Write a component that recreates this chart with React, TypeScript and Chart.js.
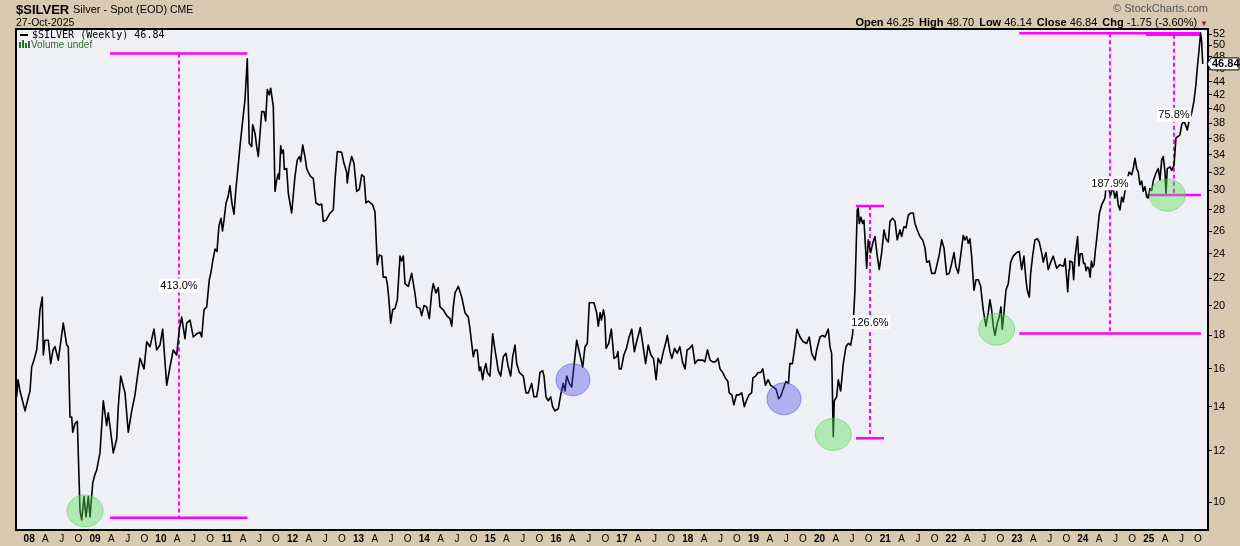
import React, { useEffect, useRef } from 'react';
import { Chart, registerables } from 'chart.js';

Chart.register(...registerables);

// ---------------- data (weekly closes) ----------------
const t07_10 = [
  2007.811, 2007.830, 2007.861, 2007.891, 2007.937, 2007.982, 2008.013, 2008.038, 2008.073, 2008.114,
  2008.142, 2008.164, 2008.199, 2008.215, 2008.240, 2008.290, 2008.327, 2008.362, 2008.392, 2008.442,
  2008.483, 2008.518, 2008.570, 2008.594, 2008.620, 2008.646, 2008.661, 2008.696, 2008.731, 2008.772,
  2008.798, 2008.832, 2008.863, 2008.898, 2008.924, 2008.965, 2008.995, 2009.025, 2009.075, 2009.126,
  2009.177, 2009.201, 2009.235, 2009.277, 2009.329, 2009.353, 2009.390, 2009.425, 2009.455, 2009.505,
  2009.557, 2009.607, 2009.645, 2009.683, 2009.744, 2009.785, 2009.835, 2009.895, 2009.936, 2009.986,
  2010.027, 2010.088, 2010.138, 2010.188, 2010.240, 2010.280, 2010.316, 2010.366, 2010.392, 2010.442,
  2010.492, 2010.544, 2010.594, 2010.620, 2010.655, 2010.696, 2010.735, 2010.761, 2010.791, 2010.822,
  2010.852, 2010.882, 2010.913, 2010.935, 2010.958, 2010.989, 2011.019, 2011.049, 2011.080, 2011.110,
  2011.140, 2011.171,
];
const p07_10 = [
  14.5, 15.4, 14.8, 14.4, 13.8, 14.4, 14.8, 16.1, 16.5, 17.1,
  18.4, 19.7, 20.6, 16.8, 17.7, 17.7, 16.3, 17.1, 17.3, 16.5,
  17.7, 18.8, 17.4, 17.3, 13.5, 13.5, 12.8, 13.2, 13.3, 9.7,
  9.4, 10.2, 9.5, 10.2, 9.5, 10.7, 11.0, 11.2, 11.9, 14.3,
  13.1, 13.7, 12.9, 11.9, 12.5, 14.0, 15.6, 15.1, 14.7, 12.8,
  13.8, 14.6, 15.6, 16.6, 16.0, 17.6, 17.3, 18.4, 17.1, 17.4,
  18.4, 15.1, 16.1, 17.1, 16.8, 18.4, 19.2, 17.8, 18.8, 19.0,
  17.9, 18.1, 18.2, 17.9, 19.7, 19.9, 21.9, 22.5, 23.5, 24.4,
  24.2, 26.5, 27.2, 26.0, 27.0, 28.7, 29.3, 30.5, 28.6, 27.6,
  30.2, 32.5,
];

const t11_16 = [
  2011.201, 2011.227, 2011.277, 2011.312, 2011.342, 2011.379, 2011.394, 2011.429, 2011.455, 2011.479,
  2011.531, 2011.566, 2011.591, 2011.616, 2011.646, 2011.667, 2011.707, 2011.733, 2011.758, 2011.783,
  2011.798, 2011.819, 2011.834, 2011.859, 2011.874, 2011.910, 2011.935, 2011.986, 2012.036, 2012.071,
  2012.102, 2012.123, 2012.153, 2012.188, 2012.214, 2012.238, 2012.275, 2012.314, 2012.355, 2012.405,
  2012.442, 2012.466, 2012.507, 2012.568, 2012.618, 2012.644, 2012.679, 2012.745, 2012.780, 2012.821,
  2012.830, 2012.861, 2012.897, 2012.932, 2012.973, 2013.013, 2013.049, 2013.084, 2013.114, 2013.149,
  2013.216, 2013.251, 2013.286, 2013.316, 2013.353, 2013.377, 2013.418, 2013.438, 2013.459, 2013.489,
  2013.520, 2013.555, 2013.590, 2013.631, 2013.656, 2013.681, 2013.707, 2013.757, 2013.808, 2013.858,
  2013.884, 2013.934, 2013.960, 2013.995, 2014.036, 2014.076, 2014.112, 2014.136, 2014.177, 2014.212,
  2014.238, 2014.288, 2014.340, 2014.390, 2014.416, 2014.440, 2014.466, 2014.516, 2014.568, 2014.618,
  2014.668, 2014.694, 2014.719, 2014.744, 2014.769, 2014.804, 2014.835, 2014.856, 2014.886, 2014.906,
  2014.936, 2014.956, 2014.997, 2015.038, 2015.073, 2015.099, 2015.123, 2015.160, 2015.199, 2015.240,
  2015.275, 2015.311, 2015.342, 2015.377, 2015.403, 2015.442, 2015.503, 2015.544, 2015.579, 2015.630,
  2015.665, 2015.706, 2015.731, 2015.756, 2015.797, 2015.817, 2015.848, 2015.882, 2015.919, 2015.949,
  2015.984, 2016.034, 2016.071, 2016.110, 2016.136, 2016.162, 2016.201, 2016.238, 2016.262, 2016.314,
  2016.364, 2016.405, 2016.440, 2016.475, 2016.505, 2016.541, 2016.576, 2016.617, 2016.642,
];
const p11_16 = [
  35.0, 37.1, 41.3, 47.7, 35.4, 35.0, 37.8, 36.7, 35.0, 33.8,
  39.6, 39.6, 38.3, 42.8, 42.0, 43.0, 40.3, 29.9, 31.1, 31.8,
  31.2, 35.1, 34.2, 34.6, 32.3, 32.4, 29.7, 27.7, 31.5, 33.4,
  33.8, 33.2, 35.2, 33.8, 32.4, 32.0, 31.5, 31.3, 28.7, 28.5,
  28.6, 26.9, 27.0, 27.7, 28.0, 31.1, 34.4, 34.3, 33.0, 32.0,
  30.8, 32.6, 33.8, 33.0, 29.9, 30.1, 31.7, 31.5, 28.7, 28.9,
  28.5, 27.8, 23.1, 23.9, 23.8, 22.1, 22.1, 21.6, 20.6, 18.8,
  19.7, 19.8, 20.4, 23.8, 23.4, 23.8, 21.6, 21.4, 22.4, 20.9,
  19.9, 19.8, 19.3, 20.0, 19.9, 19.1, 20.9, 21.6, 20.9, 21.3,
  19.9, 19.7, 19.3, 19.1, 18.6, 19.9, 20.9, 21.4, 20.6, 19.5,
  19.2, 18.4, 17.5, 16.7, 17.1, 17.1, 15.9, 16.1, 15.4, 15.9,
  16.3, 15.8, 15.6, 18.1, 17.1, 16.5, 15.9, 15.6, 16.7, 16.9,
  16.1, 15.6, 16.7, 17.4, 16.3, 15.8, 15.6, 14.7, 14.7, 15.2,
  14.5, 14.5, 15.0, 15.8, 15.9, 15.6, 14.5, 14.3, 14.5, 14.0,
  13.8, 13.9, 14.6, 15.2, 14.8, 15.6, 15.2, 15.0, 15.8, 17.7,
  16.8, 16.1, 17.3, 17.5, 20.2, 20.2, 20.2, 19.5, 18.6,
];

const t16_19 = [
  2016.67, 2016.69, 2016.72, 2016.74, 2016.76, 2016.80, 2016.84, 2016.86, 2016.88, 2016.92,
  2016.94, 2016.96, 2016.99, 2017.03, 2017.07, 2017.11, 2017.15, 2017.19, 2017.23, 2017.28,
  2017.32, 2017.36, 2017.40, 2017.44, 2017.48, 2017.52, 2017.55, 2017.59, 2017.63, 2017.67,
  2017.69, 2017.73, 2017.76, 2017.80, 2017.84, 2017.88, 2017.92, 2017.96, 2017.99, 2018.03,
  2018.07, 2018.11, 2018.15, 2018.19, 2018.23, 2018.26, 2018.30, 2018.34, 2018.38, 2018.42,
  2018.46, 2018.49, 2018.53, 2018.57, 2018.61, 2018.63, 2018.67, 2018.70, 2018.74, 2018.78,
  2018.82, 2018.86, 2018.89, 2018.93, 2018.97, 2018.99, 2019.03, 2019.07, 2019.11, 2019.14,
  2019.18, 2019.22, 2019.26, 2019.30, 2019.34, 2019.38, 2019.41, 2019.45, 2019.49, 2019.53,
  2019.55, 2019.59, 2019.62, 2019.66,
];
const p16_19 = [
  19.5, 19.0, 19.7, 19.2, 17.2, 17.5, 18.4, 17.5, 16.6, 16.7,
  17.0, 16.0, 16.0, 16.8, 17.2, 17.9, 18.4, 17.0, 17.7, 18.5,
  17.4, 16.3, 17.4, 16.8, 16.6, 15.4, 16.6, 16.3, 17.0, 17.6,
  18.0, 17.0, 16.6, 17.2, 16.9, 17.3, 16.4, 16.0, 17.1, 17.2,
  17.4, 16.3, 16.5, 16.5, 16.5, 16.4, 17.1, 16.5, 16.4, 16.4,
  16.6, 16.0, 15.8, 15.5, 15.3, 14.7, 14.6, 14.1, 14.6, 14.6,
  14.7, 14.0, 14.3, 14.6, 14.7, 15.5, 15.6, 15.8, 15.8, 16.0,
  15.1, 15.4, 15.1, 15.0, 14.9, 14.4, 14.5, 14.9, 15.3, 15.2,
  16.3, 16.3, 17.1, 18.4,
];

const t19_23 = [
  2019.704, 2019.754, 2019.806, 2019.845, 2019.882, 2019.932, 2019.958, 2020.008, 2020.049, 2020.084,
  2020.134, 2020.160, 2020.185, 2020.210, 2020.225, 2020.261, 2020.286, 2020.322, 2020.362, 2020.403,
  2020.437, 2020.474, 2020.504, 2020.539, 2020.574, 2020.589, 2020.605, 2020.630, 2020.656, 2020.676,
  2020.717, 2020.741, 2020.778, 2020.808, 2020.843, 2020.878, 2020.908, 2020.945, 2020.980, 2021.010,
  2021.045, 2021.071, 2021.112, 2021.147, 2021.181, 2021.223, 2021.248, 2021.283, 2021.314, 2021.349,
  2021.385, 2021.425, 2021.450, 2021.485, 2021.526, 2021.567, 2021.602, 2021.628, 2021.667, 2021.704,
  2021.754, 2021.789, 2021.819, 2021.856, 2021.891, 2021.932, 2021.971, 2022.008, 2022.043, 2022.073,
  2022.108, 2022.134, 2022.184, 2022.209, 2022.235, 2022.260, 2022.285, 2022.311, 2022.346, 2022.377,
  2022.412, 2022.448, 2022.487, 2022.528, 2022.563, 2022.589, 2022.615, 2022.639, 2022.665, 2022.700,
  2022.730, 2022.756, 2022.776, 2022.802, 2022.832, 2022.867, 2022.904, 2022.943, 2022.995, 2023.034,
  2023.071, 2023.105, 2023.136, 2023.156, 2023.186, 2023.207, 2023.237, 2023.272, 2023.307, 2023.338,
  2023.374, 2023.398, 2023.439, 2023.474, 2023.511, 2023.550, 2023.602, 2023.652,
];
const p19_23 = [
  17.9, 17.6, 17.5, 17.9, 16.9, 16.5, 17.1, 17.9, 18.0, 17.9,
  18.4, 17.3, 16.9, 12.6, 14.3, 14.5, 15.4, 14.8, 16.3, 17.3,
  17.5, 17.4, 18.1, 21.1, 28.0, 28.2, 26.7, 27.3, 26.7, 27.0,
  22.8, 25.2, 24.1, 24.9, 25.5, 23.8, 22.7, 24.1, 26.1, 25.3,
  25.0, 26.9, 27.2, 26.9, 25.2, 26.1, 25.5, 26.4, 26.3, 27.5,
  27.7, 27.7, 26.7, 26.1, 25.5, 25.2, 24.5, 23.3, 23.4, 22.4,
  22.4, 23.2, 23.9, 25.2, 24.5, 22.3, 22.4, 23.2, 24.1, 22.9,
  22.4, 23.4, 25.6, 25.2, 25.5, 24.9, 25.3, 23.8, 21.1, 21.9,
  21.9, 21.4, 19.7, 18.6, 19.5, 20.4, 19.7, 18.6, 18.0, 18.8,
  19.2, 19.9, 18.4, 19.5, 21.1, 21.6, 23.3, 23.8, 24.1, 24.2,
  22.7, 23.8, 21.9, 21.1, 20.6, 22.4, 23.8, 25.2, 25.3, 25.0,
  24.1, 23.3, 24.1, 22.7, 23.3, 23.8, 22.8, 23.1,
];

const t23_25 = [
  2023.68, 2023.71, 2023.73, 2023.75, 2023.77, 2023.79, 2023.80, 2023.84, 2023.86, 2023.88,
  2023.90, 2023.92, 2023.94, 2023.96, 2023.99, 2024.01, 2024.03, 2024.05, 2024.07, 2024.09,
  2024.11, 2024.13, 2024.15, 2024.17, 2024.19, 2024.209, 2024.249, 2024.285, 2024.335, 2024.361,
  2024.385, 2024.422, 2024.452, 2024.487, 2024.513, 2024.537, 2024.563, 2024.589, 2024.613, 2024.639,
  2024.665, 2024.704, 2024.741, 2024.765, 2024.791, 2024.817, 2024.841, 2024.867, 2024.893, 2024.917,
  2024.943, 2024.969, 2024.993, 2025.019, 2025.045, 2025.069, 2025.110, 2025.145, 2025.171, 2025.197,
  2025.221, 2025.247, 2025.262, 2025.282, 2025.323, 2025.349, 2025.384, 2025.414, 2025.449, 2025.475,
  2025.500, 2025.535, 2025.566, 2025.585, 2025.616, 2025.652, 2025.687, 2025.717, 2025.737, 2025.767,
  2025.788, 2025.803, 2025.820,
];
const p23_25 = [
  23.0, 23.0, 23.6, 22.3, 21.0, 22.7, 23.4, 23.3, 21.9, 23.7,
  24.6, 25.5, 23.0, 24.0, 24.0, 23.2, 23.2, 22.6, 22.9, 22.8,
  22.1, 23.4, 22.9, 23.1, 24.3, 25.2, 27.6, 28.5, 29.2, 31.0,
  30.2, 29.5, 30.4, 29.2, 29.9, 28.5, 28.0, 29.3, 28.8, 29.9,
  31.0, 32.0, 31.7, 32.4, 33.6, 32.4, 32.0, 30.6, 31.0, 29.9,
  30.4, 29.3, 29.2, 30.2, 30.0, 31.0, 31.9, 32.4, 31.1, 33.4,
  33.8, 32.0, 29.7, 32.4, 32.6, 32.2, 32.8, 36.1, 36.3, 36.5,
  37.8, 38.3, 37.6, 37.1, 38.5, 39.4, 41.1, 43.6, 46.1, 49.5,
  52.2, 50.8, 46.84,
];

const timeSegments = [t07_10, t11_16, t16_19, t19_23, t23_25];
const priceSegments = [p07_10, p11_16, p16_19, p19_23, p23_25];

const lastClose = 46.84;

// axis ticks
const axisYears = [2008, 2009, 2010, 2011, 2012, 2013, 2014, 2015, 2016, 2017, 2018, 2019, 2020, 2021, 2022, 2023, 2024, 2025];
const quarterLetters = ['A', 'J', 'O'];
const quarterFractions = [0.247, 0.496, 0.748];
const priceTicks = [10, 12, 14, 16, 18, 20, 22, 24, 26, 28, 30, 32, 34, 36, 38, 40, 42, 44, 46, 48, 50, 52];
const X_MIN = 2007.8;
const X_MAX = 2025.9;
const Y_MIN = 9.07;
const Y_MAX = 52.97;

// percentage measurements (magenta)
const measureFrom = [2009.227, 2020.555, 2023.034, 2024.958];
const measureTo = [2011.315, 2020.98, 2025.793, 2025.793];
const measureAt = [2010.275, 2020.767, 2024.411, 2025.383];
const measureLow = [9.47, 12.53, 18.13, 29.52];
const measureHigh = [48.6, 28.4, 52.2, 51.9];
const measureText = ['413.0%', '126.6%', '187.9%', '75.8%'];

// highlight ellipses
const circleTimes = [2008.848, 2016.257, 2019.461, 2020.21, 2022.691, 2025.282];
const circleValues = [9.7, 15.4, 14.4, 12.7, 18.4, 29.5];
const circleKinds = ['green', 'blue', 'blue', 'green', 'green', 'green'];

// header texts
const symbolText = '$SILVER';
const descText = 'Silver - Spot (EOD)';
const exchText = 'CME';
const dateText = '27-Oct-2025';
const creditText = '\u00A9 StockCharts.com';
const ohlcLabels = ['Open', 'High', 'Low', 'Close', 'Chg'];
const ohlcValues = ['46.25', '48.70', '46.14', '46.84', '-1.75 (-3.60%)'];
const legendText = '$SILVER (Weekly) 46.84';
const volumeText = 'Volume undef';

// ---------------- styles ----------------
const TAN = '#d9c9b0';
const PLOT_BG = '#eff0f6';
const MAGENTA = '#ff00ff';
const SANS = 'Arial, "Liberation Sans", sans-serif';
const CIRCLE_STYLE: Record<string, { fill: string; stroke: string }> = {
  green: { fill: 'rgba(90,225,90,0.42)', stroke: 'rgba(90,200,90,0.55)' },
  blue: { fill: 'rgba(70,70,230,0.38)', stroke: 'rgba(70,70,220,0.5)' },
};

const decorPlugin = {
  id: 'stockchartsDecor',
  beforeDraw(chart: any) {
    const { ctx, chartArea: a } = chart;
    ctx.save();
    ctx.fillStyle = PLOT_BG;
    ctx.fillRect(a.left, a.top, a.right - a.left, a.bottom - a.top);
    ctx.restore();
  },
  beforeDatasetsDraw(chart: any) {
    const { ctx, chartArea: a, scales } = chart;
    const xs = scales.x;
    const ys = scales.y;
    ctx.save();
    ctx.beginPath();
    ctx.rect(a.left, a.top, a.right - a.left, a.bottom - a.top);
    ctx.clip();
    ctx.strokeStyle = MAGENTA;
    for (let i = 0; i < measureText.length; i++) {
      const x0 = xs.getPixelForValue(measureFrom[i]);
      const x1 = xs.getPixelForValue(measureTo[i]);
      const xm = xs.getPixelForValue(measureAt[i]);
      const yLo = ys.getPixelForValue(measureLow[i]);
      const yHi = ys.getPixelForValue(measureHigh[i]);
      ctx.setLineDash([]);
      ctx.lineWidth = 2.5;
      ctx.beginPath();
      ctx.moveTo(x0, yLo);
      ctx.lineTo(x1, yLo);
      ctx.moveTo(x0, yHi);
      ctx.lineTo(x1, yHi);
      ctx.stroke();
      ctx.setLineDash([4, 3]);
      ctx.lineWidth = 2;
      ctx.beginPath();
      ctx.moveTo(xm, yHi);
      ctx.lineTo(xm, yLo);
      ctx.stroke();
    }
    ctx.restore();
  },
  afterDatasetsDraw(chart: any) {
    const { ctx, chartArea: a, scales } = chart;
    const xs = scales.x;
    const ys = scales.y;
    ctx.save();
    ctx.beginPath();
    ctx.rect(a.left, a.top, a.right - a.left, a.bottom - a.top);
    ctx.clip();
    for (let i = 0; i < circleTimes.length; i++) {
      const st = CIRCLE_STYLE[circleKinds[i]];
      const cx = xs.getPixelForValue(circleTimes[i]);
      const cy = ys.getPixelForValue(circleValues[i]);
      const rx = circleKinds[i] === 'green' ? 18 : 17;
      ctx.beginPath();
      ctx.ellipse(cx, cy, rx, 16, 0, 0, Math.PI * 2);
      ctx.fillStyle = st.fill;
      ctx.fill();
      ctx.lineWidth = 1;
      ctx.strokeStyle = st.stroke;
      ctx.stroke();
    }
    ctx.font = '11px ' + SANS;
    ctx.textAlign = 'center';
    ctx.textBaseline = 'middle';
    for (let i = 0; i < measureText.length; i++) {
      const xm = xs.getPixelForValue(measureAt[i]);
      const ym = ys.getPixelForValue(Math.sqrt(measureLow[i] * measureHigh[i]));
      const w = ctx.measureText(measureText[i]).width + 3;
      ctx.fillStyle = '#ffffff';
      ctx.fillRect(xm - w / 2, ym - 7, w, 14);
      ctx.fillStyle = '#000000';
      ctx.fillText(measureText[i], xm, ym + 0.5);
    }
    ctx.restore();
  },
  afterDraw(chart: any) {
    const { ctx, chartArea: a, scales } = chart;
    ctx.save();
    ctx.strokeStyle = '#000';
    ctx.lineWidth = 2;
    ctx.strokeRect(a.left, a.top, a.right - a.left, a.bottom - a.top);
    // last-price flag
    const yc = scales.y.getPixelForValue(lastClose);
    const x0 = a.right;
    ctx.beginPath();
    ctx.moveTo(x0 - 1, yc);
    ctx.lineTo(x0 + 3, yc - 6);
    ctx.lineTo(1239, yc - 6);
    ctx.lineTo(1239, yc + 6);
    ctx.lineTo(x0 + 3, yc + 6);
    ctx.closePath();
    ctx.fillStyle = '#fff';
    ctx.fill();
    ctx.lineWidth = 1;
    ctx.strokeStyle = '#000';
    ctx.stroke();
    ctx.fillStyle = '#000';
    ctx.font = 'bold 11px ' + SANS;
    ctx.textAlign = 'left';
    ctx.textBaseline = 'middle';
    ctx.fillText(lastClose.toFixed(2), x0 + 4, yc + 0.5);
    ctx.restore();
  },
};

const App = () => {
  const ref = useRef<HTMLCanvasElement | null>(null);

  useEffect(() => {
    const canvas = ref.current;
    if (!canvas) return;
    const points: { x: number; y: number }[] = [];
    timeSegments.forEach((ts, s) => {
      const ps = priceSegments[s];
      const n = Math.min(ts.length, ps.length);
      for (let i = 0; i < n; i++) points.push({ x: ts[i], y: ps[i] });
    });

    const xTickValues: number[] = [];
    const xTickLabels: string[] = [];
    const xTickBold: boolean[] = [];
    axisYears.forEach((yr) => {
      xTickValues.push(yr);
      xTickLabels.push(String(yr % 100).padStart(2, '0'));
      xTickBold.push(true);
      quarterFractions.forEach((f, qi) => {
        const v = yr + f;
        if (v <= X_MAX) {
          xTickValues.push(v);
          xTickLabels.push(quarterLetters[qi]);
          xTickBold.push(false);
        }
      });
    });

    const chart = new Chart(canvas, {
      type: 'line',
      data: {
        datasets: [
          {
            data: points,
            borderColor: '#000000',
            borderWidth: 1.6,
            pointRadius: 0,
            tension: 0,
            borderJoinStyle: 'round',
            fill: false,
          },
        ],
      },
      options: {
        responsive: false,
        animation: false,
        devicePixelRatio: 1,
        events: [],
        layout: { padding: { left: 16, top: 29, right: 0, bottom: 0 } },
        plugins: { legend: { display: false }, tooltip: { enabled: false } },
        scales: {
          x: {
            type: 'linear',
            min: X_MIN,
            max: X_MAX,
            position: 'bottom',
            grid: { display: false, drawTicks: false },
            border: { display: false },
            afterFit: (s: any) => {
              s.height = 16;
            },
            afterBuildTicks: (s: any) => {
              s.ticks = xTickValues.map((v) => ({ value: v }));
            },
            ticks: {
              autoSkip: false,
              maxRotation: 0,
              minRotation: 0,
              padding: 3,
              color: '#000',
              font: (c: any) => ({ family: SANS, size: 10, weight: xTickBold[c.index] ? 'bold' : 'normal' }),
              callback: (_v: any, i: number) => xTickLabels[i],
            },
          },
          y: {
            type: 'logarithmic',
            position: 'right',
            min: Y_MIN,
            max: Y_MAX,
            grid: { display: true, drawOnChartArea: false, drawTicks: true, tickLength: 4, color: '#000' },
            border: { display: false },
            afterFit: (s: any) => {
              s.width = 32;
            },
            afterBuildTicks: (s: any) => {
              s.ticks = priceTicks.map((v) => ({ value: v }));
            },
            ticks: {
              autoSkip: false,
              padding: 1,
              color: '#000',
              font: { family: SANS, size: 11 },
              callback: (v: any) => String(v),
            },
          },
        },
      },
      plugins: [decorPlugin],
    } as any);

    return () => chart.destroy();
  }, []);

  const abs = (o: React.CSSProperties): React.CSSProperties => ({ position: 'absolute', whiteSpace: 'nowrap', ...o });

  return (
    <div style={{ position: 'fixed', left: 0, top: 0, width: 1240, height: 546, background: TAN, overflow: 'hidden', fontFamily: SANS, color: '#000' }}>
      <canvas ref={ref} width={1240} height={546} style={{ position: 'absolute', left: 0, top: 0, width: 1240, height: 546 }} />
      <div style={abs({ left: 16, top: 3, fontSize: 13, fontWeight: 'bold', lineHeight: '13px' })}>{symbolText}</div>
      <div style={abs({ left: 73, top: 4, fontSize: 11, lineHeight: '11px' })}>{descText}</div>
      <div style={abs({ left: 170, top: 4, fontSize: 10.5, lineHeight: '11px' })}>{exchText}</div>
      <div style={abs({ left: 16, top: 17, fontSize: 10.5, lineHeight: '11px' })}>{dateText}</div>
      <div style={abs({ right: 32, top: 3, fontSize: 11, lineHeight: '11px', color: '#555' })}>{creditText}</div>
      <div style={abs({ right: 32, top: 17, fontSize: 11, lineHeight: '11px' })}>
        {ohlcLabels.map((l, i) => (
          <span key={l} style={{ marginLeft: i ? 5 : 0 }}>
            <b>{l}</b> {ohlcValues[i]}
          </span>
        ))}
        <span style={{ color: '#a0143c', fontSize: 8, marginLeft: 3, verticalAlign: 'middle' }}>{'\u25BC'}</span>
      </div>
      <div style={abs({ left: 20, top: 34, width: 8, height: 2, background: '#000' })} />
      <div style={abs({ left: 32, top: 30, fontSize: 10, lineHeight: '10px', fontFamily: '"DejaVu Sans Mono", monospace' })}>{legendText}</div>
      <div style={abs({ left: 19, top: 42, width: 2, height: 6, background: '#2d6e2d' })} />
      <div style={abs({ left: 22, top: 40, width: 2, height: 8, background: '#2d6e2d' })} />
      <div style={abs({ left: 25, top: 43, width: 2, height: 5, background: '#2d6e2d' })} />
      <div style={abs({ left: 28, top: 41, width: 2, height: 7, background: '#2d6e2d' })} />
      <div style={abs({ left: 31, top: 40, fontSize: 10, lineHeight: '10px', color: '#2d6e2d' })}>{volumeText}</div>
    </div>
  );
};

export default App;
